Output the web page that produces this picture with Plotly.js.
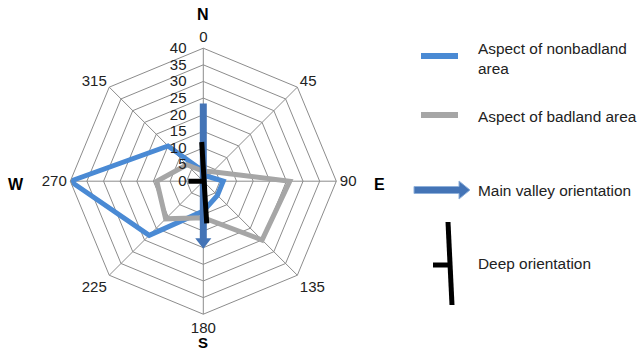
<!DOCTYPE html>
<html><head><meta charset="utf-8">
<script src="https://cdn.plot.ly/plotly-3.0.1.min.js"></script>
<style>html,body{margin:0;padding:0;background:#fff}#chart{width:638px;height:351px}</style>
</head><body><div id="chart"></div>
<script>
// Directions (category labels, degrees)
var dirLabels = ["0", "45", "90", "135", "180", "225", "270", "315"];
// Aspect of nonbadland area (%)
var nonbadland = [3, 2, 6, 6, 9, 23, 40, 15];
// Aspect of badland area (%)
var badland = [3, 4, 26, 25, 11, 16, 14, 7];
// Main valley orientation (arrow N -> S)
var valleyTheta = [0, 180];
var valleyR = [23.4, 18.2];
// Deep orientation line and its tick
var deepTheta = [357.7, 175.4];
var deepR = [11.8, 12.7];
var deepTickTheta = [270, 270];
var deepTickR = [0.4, 4.5];
var radialTicks = [0, 5, 10, 15, 20, 25, 30, 35, 40];

function closeLoop(a){ return a.concat([a[0]]); }

var font = "Liberation Sans, Arial, sans-serif";
var traces = [
  {type:'scatterpolar', subplot:'polar', mode:'lines', theta: closeLoop(dirLabels), r: closeLoop(nonbadland),
   line:{color:'#4A8AD4', width:5}, showlegend:false, hoverinfo:'skip'},
  {type:'scatterpolar', subplot:'polar', mode:'lines', theta: closeLoop(dirLabels), r: closeLoop(badland),
   line:{color:'#A6A6A6', width:5}, showlegend:false, hoverinfo:'skip'},
  {type:'scatterpolar', subplot:'polar2', mode:'lines', theta: valleyTheta, r: valleyR,
   line:{color:'#4474B6', width:7}, showlegend:false, hoverinfo:'skip'},
  {type:'scatterpolar', subplot:'polar2', mode:'markers', theta: [valleyTheta[1]], r: [valleyR[1]],
   marker:{symbol:'triangle-down', size:14, color:'#4474B6', line:{width:0}}, showlegend:false, hoverinfo:'skip'},
  {type:'scatterpolar', subplot:'polar2', mode:'lines', theta: deepTheta, r: deepR,
   line:{color:'#000000', width:5}, showlegend:false, hoverinfo:'skip'},
  {type:'scatterpolar', subplot:'polar2', mode:'lines', theta: deepTickTheta, r: deepTickR,
   line:{color:'#000000', width:5}, showlegend:false, hoverinfo:'skip'}
];

var W = 638, H = 351;
function px(x){ return x / W; }
function py(y){ return 1 - y / H; }
var dom = {x:[px(70.3), px(336.3)], y:[py(314.2), py(48.2)]};

function lab(text, x, y, xa, size, color){
  return {text:text, x:px(x), y:py(y), xref:'paper', yref:'paper', xanchor:xa, yanchor:'middle',
    align:'left', showarrow:false, font:{family:font, size:size, color:color}};
}

var layout = {
  width: W, height: H,
  margin:{l:0, r:0, t:0, b:0},
  paper_bgcolor:'#ffffff',
  showlegend:false,
  font:{family:font, size:15, color:'#222'},
  polar:{
    domain: dom,
    gridshape:'linear',
    bgcolor:'#ffffff',
    radialaxis:{range:[0,40], tickvals: radialTicks, ticktext: radialTicks.map(String),
      showline:false, gridcolor:'#8C8C8C', gridwidth:1, ticks:'outside', ticklen:11,
      tickcolor:'rgba(0,0,0,0)', side:'counterclockwise',
      angle:90, tickangle:90, tickfont:{family:font, size:15, color:'#222'}},
    angularaxis:{type:'category', categoryarray: dirLabels, rotation:90, direction:'clockwise',
      showline:true, linecolor:'#8C8C8C', linewidth:1, gridcolor:'#8C8C8C', gridwidth:1,
      ticks:'', tickfont:{family:font, size:15, color:'#222'}}
  },
  polar2:{
    domain: dom,
    bgcolor:'rgba(0,0,0,0)',
    radialaxis:{range:[0,40], visible:false, showgrid:false},
    angularaxis:{rotation:90, direction:'clockwise', visible:false, showgrid:false, showline:false}
  },
  shapes:[
    {type:'line', xref:'paper', yref:'paper', x0:px(421), x1:px(458), y0:py(56), y1:py(56),
     line:{color:'#4A8AD4', width:6}},
    {type:'line', xref:'paper', yref:'paper', x0:px(421), x1:px(458), y0:py(115), y1:py(115),
     line:{color:'#A6A6A6', width:6}},
    {type:'path', xref:'paper', yref:'paper',
     path:'M '+px(414)+' '+py(186.5)+' L '+px(459)+' '+py(186.5)+' L '+px(459)+' '+py(181)+' L '+px(470)+' '+py(190)+' L '+px(459)+' '+py(199)+' L '+px(459)+' '+py(193.5)+' L '+px(414)+' '+py(193.5)+' Z',
     fillcolor:'#4474B6', line:{color:'#8FB0DA', width:1}},
    {type:'line', xref:'paper', yref:'paper', x0:px(448), x1:px(452), y0:py(222), y1:py(305),
     line:{color:'#000', width:5}},
    {type:'line', xref:'paper', yref:'paper', x0:px(433), x1:px(450), y0:py(265), y1:py(265),
     line:{color:'#000', width:5}}
  ],
  annotations:[
    lab('<b>N</b>', 203, 15, 'center', 16, '#000'),
    lab('<b>S</b>', 203, 342, 'center', 15, '#000'),
    lab('<b>W</b>', 16, 184, 'center', 16, '#000'),
    lab('<b>E</b>', 379, 184, 'center', 16, '#000'),
    lab('Aspect of nonbadland<br>area', 476, 58.5, 'left', 15.4, '#222'),
    lab('Aspect of badland area', 476, 116.5, 'left', 15.4, '#222'),
    lab('Main valley orientation', 476, 190, 'left', 15.4, '#222'),
    lab('Deep orientation', 476, 263.5, 'left', 15.4, '#222')
  ]
};
Plotly.newPlot('chart', traces, layout, {displayModeBar:false, staticPlot:true});
</script></body></html>
